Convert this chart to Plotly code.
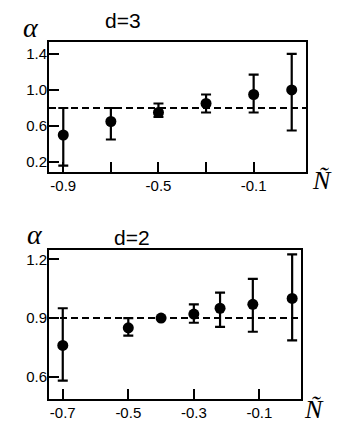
import plotly.graph_objects as go

# ---- data: panel d=3 ----
x3 = [-0.9, -0.7, -0.5, -0.3, -0.1, 0.06]
y3 = [0.50, 0.65, 0.75, 0.85, 0.95, 1.00]
hi3 = [0.80, 0.80, 0.85, 0.95, 1.17, 1.40]
lo3 = [0.16, 0.45, 0.70, 0.75, 0.75, 0.55]
ref3 = 0.8
xt3 = [-0.9, -0.7, -0.5, -0.3, -0.1]
xl3 = ["-0.9", "", "-0.5", "", "-0.1"]
yt3 = [0.2, 0.6, 1.0, 1.4]
yl3 = ["0.2", "0.6", "1.0", "1.4"]

# ---- data: panel d=2 ----
x2 = [-0.7, -0.5, -0.4, -0.3, -0.22, -0.12, 0.0]
y2 = [0.76, 0.85, 0.90, 0.92, 0.95, 0.97, 1.00]
hi2 = [0.95, 0.90, 0.90, 0.97, 1.03, 1.10, 1.225]
lo2 = [0.58, 0.81, 0.90, 0.876, 0.855, 0.83, 0.786]
ref2 = 0.9
xt2 = [-0.7, -0.5, -0.3, -0.1]
xl2 = ["-0.7", "-0.5", "-0.3", "-0.1"]
yt2 = [0.6, 0.9, 1.2]
yl2 = ["0.6", "0.9", "1.2"]

OFF = 8  # page body margin
W, H = 346 - OFF, 437 - OFF
def px(x): return (x - OFF) / W
def py(y): return 1 - (y - OFF) / H

fig = go.Figure()

def add_panel(xs, ys, his, los, xa, ya):
    fig.add_trace(go.Scatter(
        x=xs, y=ys, mode="markers", xaxis=xa, yaxis=ya,
        marker=dict(color="black", size=11),
        error_y=dict(type="data", symmetric=False,
                     array=[h - y for h, y in zip(his, ys)],
                     arrayminus=[y - l for l, y in zip(los, ys)],
                     color="black", thickness=2.2, width=5),
        showlegend=False, cliponaxis=False))

add_panel(x3, y3, hi3, lo3, "x", "y")
add_panel(x2, y2, hi2, lo2, "x2", "y2")

font_tick = dict(family="Liberation Sans, Arial, sans-serif", size=15, color="black")
axcommon = dict(showline=True, linewidth=2, linecolor="black", mirror=True,
                ticks="inside", ticklen=10, tickwidth=1.5, tickcolor="black",
                showgrid=False, zeroline=False, tickfont=font_tick)

fig.update_layout(
    width=W, height=H, margin=dict(l=0, r=0, t=0, b=0),
    paper_bgcolor="white", plot_bgcolor="white",
    xaxis=dict(domain=[px(49), px(306)], range=[-0.96, 0.12], anchor="y",
               tickvals=xt3, ticktext=xl3, ticklabelstandoff=-1, **axcommon),
    yaxis=dict(domain=[py(172), py(42)], range=[0.089, 1.533], anchor="x",
               tickvals=yt3, ticktext=yl3, ticklabelstandoff=-3, **axcommon),
    xaxis2=dict(domain=[px(49), px(301)], range=[-0.742, 0.027], anchor="y2",
                tickvals=xt2, ticktext=xl2, ticklabelstandoff=-1, **axcommon),
    yaxis2=dict(domain=[py(398.5), py(250)], range=[0.489, 1.2475], anchor="x2",
                tickvals=yt2, ticktext=yl2, ticklabelstandoff=-3, **axcommon),
)

for ref, xr, yr in [(ref3, "x domain", "y"), (ref2, "x2 domain", "y2")]:
    fig.add_shape(type="line", xref=xr, yref=yr, x0=0, x1=1, y0=ref, y1=ref,
                  line=dict(color="black", width=2, dash="7px,4px"), layer="below")

serif = "Liberation Serif, Times New Roman, serif"
sans = "Liberation Sans, Arial, sans-serif"
ann = [
    ("<i>α</i>", 31, 28, serif, 28),
    ("d=3", 123, 20, sans, 21),
    ("<i>Ñ</i>", 322, 180, serif, 26),
    ("<i>α</i>", 35, 235, serif, 28),
    ("d=2", 132, 237, sans, 21),
    ("<i>Ñ</i>", 314, 409, serif, 26),
]
for t, x, y, f, s in ann:
    fig.add_annotation(text=t, x=px(x), y=py(y), xref="paper", yref="paper",
                       showarrow=False, xanchor="center", yanchor="middle",
                       font=dict(family=f, size=s, color="black"))

fig.write_html("out.html")
